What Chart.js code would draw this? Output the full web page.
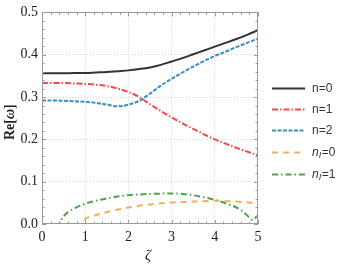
<!DOCTYPE html>
<html>
<head>
<meta charset="utf-8">
<script src="https://cdn.jsdelivr.net/npm/chart.js@4.4.1/dist/chart.umd.min.js"></script>
<style>
  body { margin: 0; background: #fff; }
</style>
</head>
<body>
<canvas id="myChart" width="339" height="265"></canvas>
<script>
// data
const zeta = [0, 0.25, 0.5, 0.75, 1, 1.25, 1.5, 1.75, 2, 2.25, 2.5, 2.75, 3, 3.25, 3.5, 3.75, 4, 4.25, 4.5, 4.75, 5];
const n0 = [0.356, 0.356, 0.356, 0.357, 0.357, 0.358, 0.359, 0.361, 0.363, 0.366, 0.370, 0.376, 0.384, 0.392, 0.401, 0.410, 0.419, 0.428, 0.437, 0.447, 0.458];
const n1 = [0.333, 0.333, 0.333, 0.332, 0.331, 0.329, 0.326, 0.320, 0.312, 0.300, 0.283, 0.267, 0.252, 0.238, 0.225, 0.212, 0.200, 0.190, 0.180, 0.171, 0.162];
const n2 = [0.292, 0.292, 0.291, 0.290, 0.289, 0.286, 0.282, 0.278, 0.282, 0.291, 0.308, 0.327, 0.343, 0.358, 0.372, 0.385, 0.397, 0.407, 0.418, 0.428, 0.438];

const zetaI0 = [0, 0.5, 0.9, 1, 1.25, 1.5, 1.75, 2, 2.25, 2.5, 2.75, 3, 3.25, 3.5, 3.75, 4, 4.25, 4.5, 4.75, 5];
const nI0 = [0, 0, 0, 0.012, 0.021, 0.028, 0.034, 0.039, 0.043, 0.046, 0.049, 0.051, 0.052, 0.053, 0.054, 0.055, 0.054, 0.053, 0.051, 0.049];

const zetaI1 = [0, 0.42, 0.45, 0.5, 0.6, 0.75, 1, 1.25, 1.5, 1.75, 2, 2.5, 3, 3.25, 3.5, 3.75, 4, 4.25, 4.5, 4.65, 4.8, 4.88, 4.95, 5];
const nI1 = [0, 0, 0.010, 0.018, 0.028, 0.037, 0.048, 0.055, 0.060, 0.065, 0.068, 0.071, 0.072, 0.071, 0.068, 0.063, 0.057, 0.049, 0.039, 0.030, 0.015, 0.009, 0.016, 0.020];

const xTicks = [0, 1, 2, 3, 4, 5];
const yTicks = [0, 0.1, 0.2, 0.3, 0.4, 0.5];

const labels = ['n=0', 'n=1', 'n=2', 'nI=0', 'nI=1'];

const serif = '"Liberation Serif", "Times New Roman", Times, serif';
const sans = '"Liberation Sans", Arial, Helvetica, sans-serif';

function pts(xs, ys) {
    return xs.map((x, i) => ({ x: x, y: ys[i] }));
}

const frameColor = '#9a9a9a';

// frame with inward ticks, titles and legend (Mathematica style)
const framePlugin = {
    id: 'frame',
    afterDraw(chart) {
        const ctx = chart.ctx;
        const a = chart.chartArea;
        const xs = chart.scales.x, ys = chart.scales.y;
        ctx.save();
        ctx.strokeStyle = frameColor;
        ctx.lineWidth = 1;
        ctx.strokeRect(Math.round(a.left) + 0.5, Math.round(a.top) + 0.5, Math.round(a.right - a.left) - 1, Math.round(a.bottom - a.top) - 1);
        ctx.beginPath();
        for (let i = 0; i <= 25; i++) {
            const v = i * 0.2;
            const px = Math.round(xs.getPixelForValue(v)) + 0.5;
            const len = i % 5 === 0 ? 4 : 2.5;
            ctx.moveTo(px, a.bottom); ctx.lineTo(px, a.bottom - len);
            ctx.moveTo(px, a.top); ctx.lineTo(px, a.top + len);
        }
        for (let i = 0; i <= 25; i++) {
            const v = i * 0.02;
            const py = Math.round(ys.getPixelForValue(v)) + 0.5;
            const len = i % 5 === 0 ? 4 : 2.5;
            ctx.moveTo(a.left, py); ctx.lineTo(a.left + len, py);
            ctx.moveTo(a.right, py); ctx.lineTo(a.right - len, py);
        }
        ctx.stroke();

        // axis titles
        ctx.fillStyle = '#222';
        ctx.textBaseline = 'middle';
        ctx.textAlign = 'center';
        ctx.font = 'italic 15px ' + serif;
        ctx.fillText('ζ', (a.left + a.right) / 2 - 2, 256);

        ctx.save();
        ctx.translate(10, (a.top + a.bottom) / 2 + 4);
        ctx.rotate(-Math.PI / 2);
        ctx.textAlign = 'left';
        const parts = [['Re[', 'bold 14px ' + serif], ['ω', 'bold italic 14px ' + serif], [']', 'bold 14px ' + serif]];
        let w = 0;
        parts.forEach(p => { ctx.font = p[1]; w += ctx.measureText(p[0]).width; });
        let x = -w / 2;
        parts.forEach(p => { ctx.font = p[1]; ctx.fillText(p[0], x, 0); x += ctx.measureText(p[0]).width; });
        ctx.restore();

        // legend
        const rows = [88, 109, 130, 152, 174];
        chart.data.datasets.forEach((ds, i) => {
            const y = rows[i] + 0.5;
            ctx.save();
            ctx.strokeStyle = ds.borderColor;
            ctx.lineWidth = ds.borderWidth;
            ctx.setLineDash(ds.borderDash || []);
            ctx.beginPath();
            ctx.moveTo(272, y); ctx.lineTo(305, y);
            ctx.stroke();
            ctx.restore();
            ctx.fillStyle = '#333';
            ctx.textAlign = 'left';
            ctx.textBaseline = 'middle';
            const lab = ds.label;
            if (lab.startsWith('nI')) {
                let tx = 312;
                ctx.font = 'italic 12px ' + sans;
                ctx.fillText('n', tx, y);
                tx += ctx.measureText('n').width;
                ctx.font = 'italic 9px ' + sans;
                ctx.fillText('I', tx, y + 3);
                tx += ctx.measureText('I').width + 0.5;
                ctx.font = '12px ' + sans;
                ctx.fillText(lab.slice(2), tx, y);
            } else {
                ctx.font = '12px ' + sans;
                ctx.fillText(lab, 312, y);
            }
        });
        ctx.restore();
    }
};

const interior = (edge) => (c) => {
    const v = c.tick ? c.tick.value : null;
    return (v === null || Math.abs(v - edge[0]) < 1e-9 || Math.abs(v - edge[1]) < 1e-9) ? 'rgba(0,0,0,0)' : '#d2d2d2';
};

const ctx = document.getElementById('myChart').getContext('2d');
const myChart = new Chart(ctx, {
    type: 'line',
    data: {
        datasets: [{
            label: labels[0],
            data: pts(zeta, n0),
            borderColor: '#333333',
            borderWidth: 2,
        }, {
            label: labels[1],
            data: pts(zeta, n1),
            borderColor: '#f5474f',
            borderWidth: 2,
            borderDash: [6, 2, 1.5, 2],
        }, {
            label: labels[2],
            data: pts(zeta, n2),
            borderColor: '#3a8cc2',
            borderWidth: 2,
            borderDash: [4, 1.5],
        }, {
            label: labels[3],
            data: pts(zetaI0, nI0),
            borderColor: '#f2ae5e',
            borderWidth: 2,
            borderDash: [6, 5],
        }, {
            label: labels[4],
            data: pts(zetaI1, nI1),
            borderColor: '#48a54a',
            borderWidth: 2,
            borderDash: [6, 3, 1.5, 3],
        }]
    },
    options: {
        responsive: false,
        animation: false,
        events: [],
        elements: {
            point: { radius: 0 },
            line: { cubicInterpolationMode: 'monotone', fill: false }
        },
        layout: { padding: { left: 0, top: 8, right: 81, bottom: 0 } },
        plugins: {
            legend: { display: false },
            tooltip: { enabled: false }
        },
        scales: {
            x: {
                type: 'linear',
                min: 0,
                max: 5,
                afterBuildTicks: s => { s.ticks = xTicks.map(v => ({ value: v })); },
                afterFit: s => { s.height = 41; },
                grid: { color: interior([0, 5]), drawTicks: false },
                border: { display: false, dash: [1, 2] },
                ticks: {
                    padding: 5,
                    color: '#222',
                    font: { family: serif, size: 14 },
                    maxRotation: 0
                }
            },
            y: {
                min: 0,
                max: 0.5,
                afterBuildTicks: s => { s.ticks = yTicks.map(v => ({ value: v })); },
                afterFit: s => { s.width = 42; },
                grid: { color: interior([0, 0.5]), drawTicks: false },
                border: { display: false, dash: [1, 2] },
                ticks: {
                    padding: 4,
                    color: '#222',
                    font: { family: serif, size: 14 },
                    callback: v => v.toFixed(1)
                }
            }
        }
    },
    plugins: [framePlugin]
});
</script>
</body>
</html>
